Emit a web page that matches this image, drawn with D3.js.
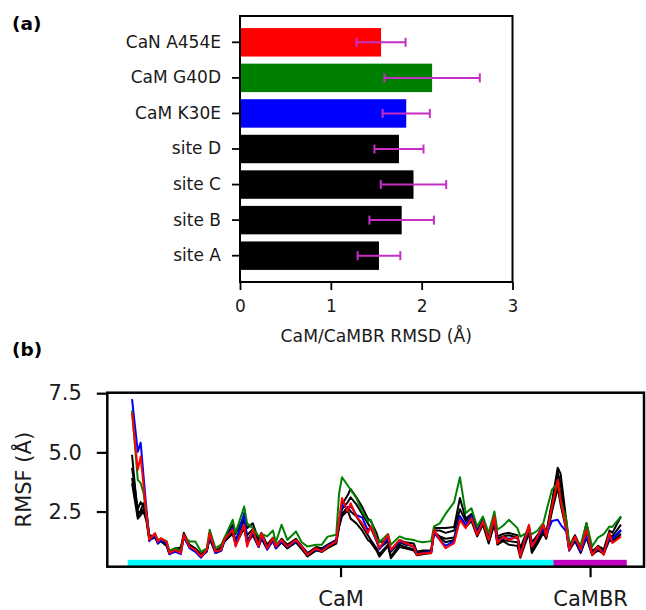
<!DOCTYPE html>
<html>
<head>
<meta charset="utf-8">
<script src="https://cdn.jsdelivr.net/npm/d3@7"></script>
<style>
  body { margin: 0; background: #fff; }
  svg { display: block; font-family: "DejaVu Sans", sans-serif; }
</style>
</head>
<body>
<svg id="chart" width="646" height="610"></svg>
<script>
// (a) CaM/CaMBR RMSD, listed top to bottom
var systems = ["CaN A454E", "CaM G40D", "CaM K30E", "site D", "site C", "site B", "site A"];
var rmsd    = [1.553, 2.115, 1.83, 1.75, 1.91, 1.78, 1.53];
var rmsdErr = [0.27, 0.525, 0.26, 0.27, 0.36, 0.355, 0.235];
var barColors = ["#ff0000", "#008000", "#0000ff", "#000000", "#000000", "#000000", "#000000"];
var rmsdTicks = [0, 1, 2, 3];

// (b) RMSF per residue
var residues = [2, 4, 5, 6, 7, 8, 10, 11, 12, 14, 15, 17, 19, 20, 22, 24, 26, 28, 29, 31,
  33, 34, 37, 38, 41, 42, 44, 46, 47, 49, 51, 52, 54, 56, 59, 61, 63, 66, 68, 70,
  73, 74, 75, 77, 78, 80, 82, 84, 85, 87, 88, 91, 92, 95, 97, 100, 101, 103, 106, 107,
  109, 111, 114, 116, 118, 120, 122, 124, 126, 128, 129, 131, 133, 136, 137, 140, 141, 143, 145, 146,
  148, 150, 151, 153, 154, 156, 158, 160, 162, 164, 166, 168, 169, 172];

var siteA = [4.90, 2.30, 2.55, 2.85, 2.50, 1.50, 1.45, 1.25, 1.30, 1.10, 0.80, 0.95, 0.95, 1.60, 1.10, 0.95, 0.70, 0.90, 1.40, 0.85,
  1.00, 1.35, 1.94, 1.55, 2.30, 1.80, 2.00, 1.30, 1.60, 1.10, 1.40, 1.05, 1.35, 1.10, 1.35, 1.05, 0.75, 1.00, 0.95, 1.10,
  1.30, 2.10, 2.80, 3.20, 3.45, 3.10, 2.70, 2.20, 2.10, 1.60, 1.20, 1.30, 0.85, 1.30, 1.20, 1.15, 0.80, 0.85, 0.85, 1.80,
  1.80, 1.80, 1.85, 3.07, 2.20, 2.40, 1.70, 2.20, 1.40, 2.30, 1.45, 1.55, 1.60, 1.50, 0.95, 1.90, 1.20, 1.50, 1.95, 1.60,
  2.90, 4.35, 4.10, 2.10, 1.05, 1.50, 0.95, 2.01, 0.80, 1.05, 0.90, 1.70, 1.60, 2.29];
var siteB = [4.35, 2.60, 2.90, 2.75, 2.30, 1.40, 1.50, 1.20, 1.35, 1.15, 0.75, 0.90, 1.00, 1.50, 1.05, 0.90, 0.65, 0.85, 1.50, 0.80,
  0.95, 1.30, 1.70, 1.30, 2.15, 1.50, 1.75, 1.15, 1.50, 1.00, 1.35, 1.00, 1.25, 1.05, 1.30, 1.00, 0.70, 0.95, 0.90, 1.05,
  1.25, 2.00, 2.60, 2.90, 3.10, 2.80, 2.40, 2.00, 1.80, 1.30, 0.95, 1.25, 0.80, 1.20, 1.10, 1.05, 0.75, 0.80, 0.80, 1.70,
  1.70, 1.60, 1.70, 2.60, 2.10, 2.30, 1.60, 2.10, 1.35, 2.15, 1.35, 1.45, 1.50, 1.40, 0.80, 1.80, 1.00, 1.40, 1.85, 1.50,
  2.80, 4.15, 3.70, 2.00, 1.00, 1.40, 0.90, 1.70, 0.75, 0.95, 0.80, 1.50, 1.45, 1.95];
var siteC = [3.92, 2.50, 2.45, 2.60, 2.20, 1.35, 1.40, 1.15, 1.25, 1.05, 0.70, 0.85, 0.85, 1.45, 1.00, 0.85, 0.60, 0.85, 1.35, 0.75,
  0.85, 1.20, 1.60, 1.20, 1.90, 1.30, 1.60, 1.05, 1.40, 0.95, 1.25, 0.95, 1.20, 0.95, 1.20, 0.90, 0.62, 0.85, 0.80, 1.00,
  1.20, 1.90, 2.40, 2.70, 2.50, 2.30, 1.90, 1.50, 1.30, 0.95, 0.70, 1.10, 0.60, 1.10, 1.00, 0.90, 0.70, 0.75, 0.75, 1.65,
  1.45, 1.35, 1.40, 2.30, 1.90, 2.20, 1.50, 2.00, 1.20, 2.05, 1.20, 1.30, 1.25, 1.20, 0.65, 1.70, 0.85, 1.25, 1.70, 1.40,
  2.60, 3.90, 3.20, 1.80, 0.90, 1.30, 0.80, 1.50, 0.70, 0.85, 0.75, 1.40, 1.30, 1.70];
var siteD = [3.70, 2.20, 2.35, 2.50, 2.10, 1.30, 1.40, 1.20, 1.30, 1.10, 0.80, 0.90, 0.90, 1.40, 1.00, 0.85, 0.60, 0.80, 1.45, 0.80,
  0.90, 1.25, 1.55, 1.10, 1.80, 1.15, 1.50, 1.00, 1.35, 0.90, 1.30, 0.95, 1.20, 0.95, 1.25, 0.95, 0.60, 0.90, 0.80, 0.95,
  1.15, 1.85, 2.30, 2.55, 2.20, 2.00, 1.70, 1.30, 1.20, 0.85, 0.60, 1.05, 0.53, 1.00, 0.95, 0.85, 0.65, 0.70, 0.75, 1.60,
  1.40, 1.20, 1.30, 2.20, 1.85, 2.10, 1.45, 1.95, 1.15, 2.00, 1.10, 1.25, 1.10, 1.05, 0.55, 1.60, 0.75, 1.15, 1.60, 1.35,
  2.50, 3.50, 2.80, 1.70, 0.85, 1.25, 0.75, 1.40, 0.65, 0.90, 0.70, 1.30, 1.20, 1.55];
var camK30E = [7.25, 5.03, 5.41, 4.00, 2.60, 1.25, 1.50, 1.15, 1.30, 1.15, 0.70, 0.80, 0.70, 1.45, 0.95, 0.80, 0.55, 0.85, 1.50, 0.75,
  0.85, 1.25, 1.80, 1.10, 2.45, 1.20, 1.65, 1.00, 1.50, 0.90, 1.30, 0.95, 1.25, 1.00, 1.25, 1.00, 0.70, 0.90, 0.85, 1.05,
  1.25, 2.05, 2.80, 2.60, 2.75, 2.35, 2.25, 1.70, 1.85, 1.25, 0.90, 1.40, 0.85, 1.25, 1.15, 1.00, 0.70, 0.75, 0.80, 1.60,
  1.30, 1.05, 1.25, 2.30, 1.95, 2.30, 1.60, 2.15, 1.35, 2.20, 1.25, 1.40, 1.35, 1.40, 0.70, 1.80, 1.10, 1.40, 1.80, 1.50,
  2.10, 2.15, 1.95, 1.65, 0.85, 1.35, 0.80, 1.50, 0.70, 0.95, 0.75, 1.40, 1.35, 1.73];
var camG40D = [6.77, 3.84, 3.70, 3.30, 2.30, 1.35, 1.55, 1.30, 1.35, 1.25, 0.85, 0.95, 0.85, 1.45, 1.23, 1.23, 0.80, 0.95, 1.73, 0.95,
  1.10, 1.35, 2.15, 1.60, 2.71, 2.00, 1.80, 1.45, 1.55, 1.45, 1.70, 1.20, 1.94, 1.30, 1.66, 1.20, 1.02, 1.10, 1.10, 1.44,
  1.52, 3.28, 3.95, 3.60, 3.42, 3.07, 2.50, 2.10, 2.15, 1.40, 1.20, 1.55, 1.10, 1.45, 1.35, 1.30, 1.25, 1.20, 1.25, 1.87,
  2.00, 2.40, 2.90, 3.95, 2.43, 2.64, 1.87, 2.29, 1.59, 2.50, 1.73, 1.90, 2.15, 1.80, 1.44, 1.66, 1.55, 1.70, 2.01, 2.50,
  3.42, 3.70, 3.00, 2.15, 1.17, 1.35, 1.10, 2.01, 1.02, 1.40, 1.55, 1.87, 1.85, 2.29];
var canA454E = [6.67, 4.26, 4.82, 3.60, 2.40, 1.30, 1.59, 1.23, 1.38, 1.23, 0.74, 0.88, 0.74, 1.52, 1.02, 0.88, 0.60, 0.88, 1.59, 0.81,
  0.88, 1.30, 1.73, 1.02, 1.94, 1.02, 1.73, 1.02, 1.59, 0.95, 1.38, 1.02, 1.30, 1.02, 1.30, 1.02, 0.67, 0.95, 0.81, 1.02,
  1.23, 2.15, 3.07, 2.50, 2.85, 2.29, 2.01, 1.59, 1.87, 1.30, 0.95, 1.52, 0.88, 1.30, 1.17, 1.02, 0.67, 0.74, 0.74, 1.73,
  1.30, 0.95, 1.17, 2.15, 1.80, 2.22, 1.52, 2.08, 1.30, 2.29, 1.17, 1.44, 1.30, 1.44, 0.60, 1.94, 1.02, 1.44, 1.94, 1.44,
  2.71, 3.84, 2.99, 1.73, 0.88, 1.44, 0.88, 1.73, 0.67, 1.02, 0.67, 1.59, 1.17, 1.44];
var rmsfSeries = [siteA, siteB, siteC, siteD, camK30E, camG40D, canA454E];
var rmsfColors = ["#000000", "#000000", "#000000", "#000000", "#0000ff", "#008000", "#ff0000"];
var rmsfTicks = [2.5, 5.0, 7.5];

// sequence regions shown as the coloured strip under the curves
var regions = ["CaM", "CaMBR"];
var regionStart = [0.5, 148.5];
var regionEnd = [148.5, 174];
var regionColors = ["#00ffff", "#bf00bf"];

var svg = d3.select("#chart");
var ink = "#1a1a1a";

// ---------- panel (a) ----------
var axA = {left: 240, right: 512.5, top: 16, bottom: 282};
var xA = d3.scaleLinear().domain([0, 3]).range([axA.left, axA.right]);
var yA = d3.scaleBand().domain(systems).range([axA.top, axA.bottom])
  .paddingInner(0.2).paddingOuter(0.34);

var gA = svg.append("g");
gA.selectAll("rect.bar")
  .data(systems)
  .enter().append("rect")
    .attr("class", "bar")
    .attr("x", xA(0))
    .attr("y", d => yA(d))
    .attr("width", (d, i) => xA(rmsd[i]) - xA(0))
    .attr("height", yA.bandwidth())
    .style("fill", (d, i) => barColors[i]);

var errColor = "#c62ec6";
var err = gA.selectAll("g.err")
  .data(systems)
  .enter().append("g")
    .attr("class", "err")
    .attr("transform", d => "translate(0," + (yA(d) + yA.bandwidth() / 2) + ")");
err.append("line")
  .attr("x1", (d, i) => xA(rmsd[i] - rmsdErr[i]))
  .attr("x2", (d, i) => xA(rmsd[i] + rmsdErr[i]))
  .style("stroke", errColor).style("stroke-width", 2);
err.append("line")
  .attr("x1", (d, i) => xA(rmsd[i] - rmsdErr[i]))
  .attr("x2", (d, i) => xA(rmsd[i] - rmsdErr[i]))
  .attr("y1", -4.5).attr("y2", 4.5)
  .style("stroke", errColor).style("stroke-width", 2);
err.append("line")
  .attr("x1", (d, i) => xA(rmsd[i] + rmsdErr[i]))
  .attr("x2", (d, i) => xA(rmsd[i] + rmsdErr[i]))
  .attr("y1", -4.5).attr("y2", 4.5)
  .style("stroke", errColor).style("stroke-width", 2);

gA.append("rect")
  .attr("x", axA.left).attr("y", axA.top)
  .attr("width", axA.right - axA.left).attr("height", axA.bottom - axA.top)
  .style("fill", "none").style("stroke", "#000").style("stroke-width", 2);

var xAxisA = gA.append("g")
  .attr("transform", "translate(0," + axA.bottom + ")")
  .call(d3.axisBottom(xA).tickValues(rmsdTicks).tickFormat(d3.format("d")).tickSize(8).tickPadding(10));
var yAxisA = gA.append("g")
  .attr("transform", "translate(" + axA.left + ",0)")
  .call(d3.axisLeft(yA).tickSize(8).tickPadding(11));
[xAxisA, yAxisA].forEach(function(a) {
  a.select(".domain").remove();
  a.selectAll(".tick line").style("stroke", "#000").style("stroke-width", 1.8);
  a.selectAll(".tick text").style("font-size", "17px").style("fill", ink)
    .style("font-family", "'DejaVu Sans', sans-serif");
});

gA.append("text")
  .attr("x", (axA.left + axA.right) / 2).attr("y", 342)
  .attr("text-anchor", "middle")
  .style("font-size", "17.2px").style("fill", ink)
  .text("CaM/CaMBR RMSD (Å)");

svg.append("text").attr("x", 12).attr("y", 30)
  .style("font-size", "18.5px").style("font-weight", "bold").style("fill", "#000")
  .text("(a)");

// ---------- panel (b) ----------
var axB = {left: 107.3, right: 644, top: 392.7, bottom: 566.7};
var xB = d3.scaleLinear().domain([-6.6, 180]).range([axB.left, axB.right]);
var yB = d3.scaleLinear().domain([0.17, 7.52]).range([axB.bottom, axB.top]);
var gB = svg.append("g");

gB.selectAll("rect.region")
  .data(regions)
  .enter().append("rect")
    .attr("class", "region")
    .attr("x", (d, i) => xB(regionStart[i]))
    .attr("width", (d, i) => xB(regionEnd[i]) - xB(regionStart[i]))
    .attr("y", yB(0.46))
    .attr("height", yB(0.19) - yB(0.46))
    .style("fill", (d, i) => regionColors[i]);

var line = d3.line()
  .x((d, i) => xB(residues[i]))
  .y(d => yB(d));

gB.selectAll("path.rmsf")
  .data(rmsfSeries)
  .enter().append("path")
    .attr("class", "rmsf")
    .attr("d", line)
    .style("fill", "none")
    .style("stroke", (d, i) => rmsfColors[i])
    .style("stroke-width", 2)
    .style("stroke-linejoin", "round");

gB.append("rect")
  .attr("x", axB.left).attr("y", axB.top)
  .attr("width", axB.right - axB.left).attr("height", axB.bottom - axB.top)
  .style("fill", "none").style("stroke", "#000").style("stroke-width", 2.5);

var regionMid = regions.map((d, i) => (regionStart[i] + regionEnd[i]) / 2);
var xAxisB = gB.append("g")
  .attr("transform", "translate(0," + axB.bottom + ")")
  .call(d3.axisBottom(xB).tickValues(regionMid).tickFormat((d, i) => regions[i]).tickSize(10.5).tickPadding(14));
var yAxisB = gB.append("g")
  .attr("transform", "translate(" + axB.left + ",0)")
  .call(d3.axisLeft(yB).tickValues(rmsfTicks).tickFormat(d3.format(".1f")).tickSize(10.5).tickPadding(15));
[xAxisB, yAxisB].forEach(function(a) {
  a.select(".domain").remove();
  a.selectAll(".tick line").style("stroke", "#000").style("stroke-width", 2.2);
  a.selectAll(".tick text").style("font-size", "21px").style("fill", ink)
    .style("font-family", "'DejaVu Sans', sans-serif");
});

gB.append("text")
  .attr("transform", "translate(31," + (axB.top + axB.bottom) / 2 + ") rotate(-90)")
  .attr("text-anchor", "middle")
  .style("font-size", "21px").style("fill", ink)
  .text("RMSF (Å)");

svg.append("text").attr("x", 12).attr("y", 356)
  .style("font-size", "18.5px").style("font-weight", "bold").style("fill", "#000")
  .text("(b)");
</script>
</body>
</html>
